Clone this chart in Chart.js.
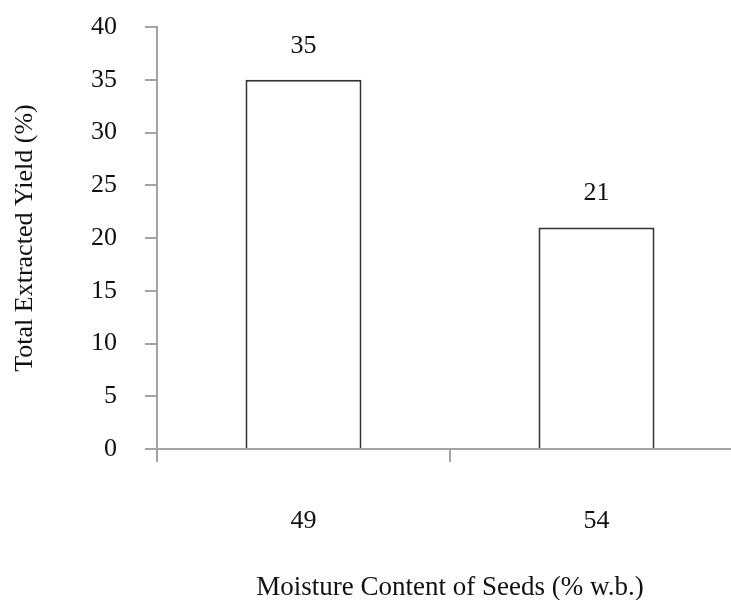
<!DOCTYPE html>
<html>
<head>
<meta charset="utf-8">
<script src="https://cdn.jsdelivr.net/npm/chart.js@4/dist/chart.umd.min.js"></script>
<style>
  html, body { margin: 0; padding: 0; background: #fff; overflow: hidden; }
  #wrap { width: 745px; height: 600px; }
</style>
</head>
<body>
<div id="wrap"><canvas id="yieldChart" width="745" height="600"></canvas></div>
<script>
// Datos
const moistureLabels = ['49', '54'];
const yieldValues = [35, 21];
const yMin = 0;
const yMax = 40;
const yStep = 5;

const serif = "'Liberation Serif', 'Times New Roman', serif";
const axisGray = '#a3a3a3';

// Etiquetas de valor encima de cada barra
const valueLabels = {
  id: 'valueLabels',
  afterDatasetsDraw(chart) {
    const ctx = chart.ctx;
    const meta = chart.getDatasetMeta(0);
    ctx.save();
    ctx.font = '26px ' + serif;
    ctx.fillStyle = '#111';
    ctx.textAlign = 'center';
    ctx.textBaseline = 'middle';
    meta.data.forEach((bar, i) => {
      ctx.fillText(String(yieldValues[i]), bar.x, bar.y - 34);
    });
    ctx.restore();
  }
};

const ctx = document.getElementById('yieldChart');
const chart = new Chart(ctx, {
  type: 'bar',
  data: {
    labels: moistureLabels,
    datasets: [{
      data: yieldValues,
      backgroundColor: '#ffffff',
      borderColor: '#333333',
      borderWidth: 2,
      categoryPercentage: 1,
      barPercentage: 0.396
    }]
  },
  options: {
    responsive: false,
    animation: false,
    layout: { padding: { top: 27, right: 2, left: 0, bottom: 0 } },
    plugins: {
      legend: { display: false },
      tooltip: { enabled: false }
    },
    scales: {
      x: {
        afterFit: s => { s.height = 151; s.paddingLeft = 0; s.paddingRight = 0; },
        grid: { offset: true, drawOnChartArea: false, tickLength: 13, color: axisGray, lineWidth: 2 },
        border: { color: axisGray, width: 2 },
        ticks: { font: { family: serif, size: 26 }, color: '#111', padding: 44 },
        title: {
          display: true,
          text: 'Moisture Content of Seeds (% w.b.)',
          font: { family: serif, size: 27 },
          color: '#111',
          padding: { top: 0, bottom: -4 }
        }
      },
      y: {
        min: yMin,
        max: yMax,
        afterFit: s => { s.width = 157; s.paddingTop = 0; s.paddingBottom = 0; },
        grid: { drawOnChartArea: false, tickLength: 12, color: axisGray, lineWidth: 2 },
        border: { color: axisGray, width: 2 },
        ticks: { stepSize: yStep, font: { family: serif, size: 26 }, color: '#111', padding: 28 },
        title: {
          display: true,
          text: 'Total Extracted Yield (%)',
          font: { family: serif, size: 26 },
          color: '#111',
          padding: { top: 10, bottom: 0 }
        }
      }
    }
  },
  plugins: [valueLabels]
});
</script>
</body>
</html>
